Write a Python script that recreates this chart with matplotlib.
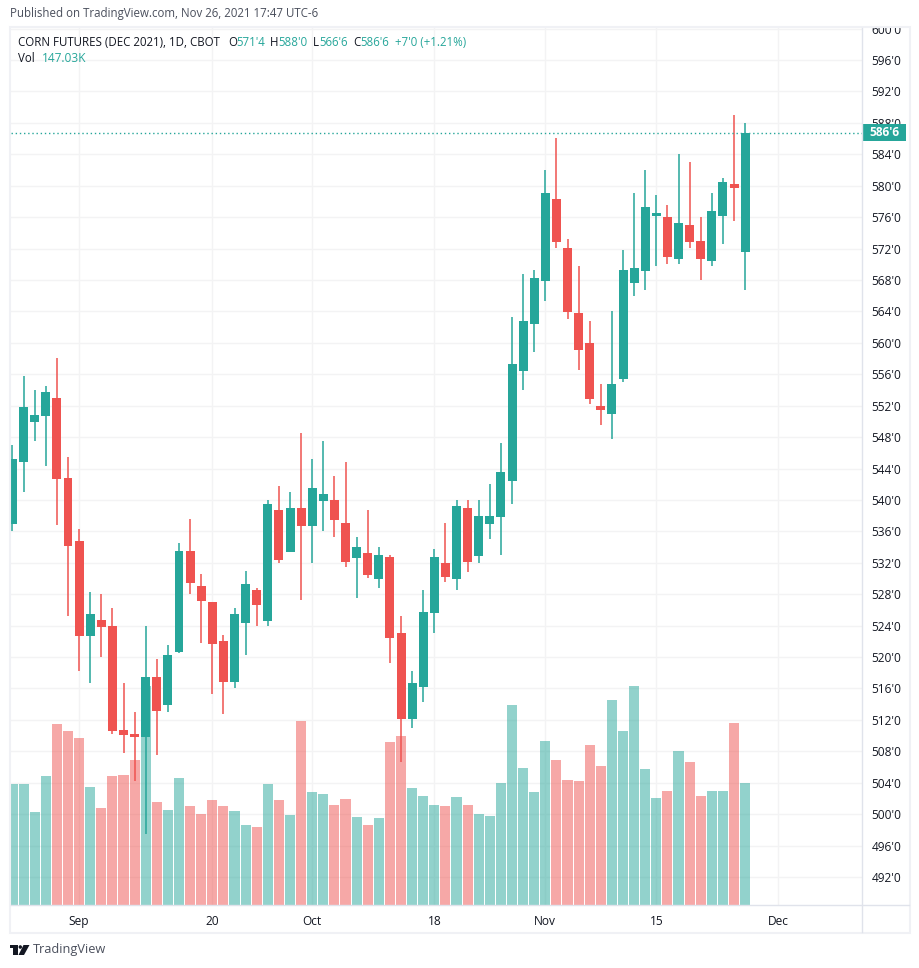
import matplotlib
matplotlib.use("Agg")
import matplotlib.pyplot as plt
from matplotlib.patches import Rectangle, Polygon, Circle
from matplotlib.transforms import Bbox

plt.rcParams['font.family'] = ['Open Sans', 'DejaVu Sans']

# daily prices, cents per bushel
opens = [536.9, 544.8, 549.9, 550.7, 553.0, 542.8, 534.8, 522.7, 524.7, 523.9, 510.7, 510.2, 509.8, 517.5, 513.9, 520.6, 533.5,
         529.0, 527.0, 522.0, 516.8, 524.3, 528.5, 524.6, 538.7, 533.4, 539.0, 536.7, 539.9, 540.0, 537.1, 532.6, 533.2, 529.9,
         532.7, 523.1, 512.1, 516.2, 525.6, 532.0, 529.9, 539.0, 532.9, 536.9, 537.8, 542.4, 556.4, 562.4, 567.9, 578.3, 572.1,
         563.8, 560.0, 552.0, 550.9, 555.4, 567.6, 569.1, 576.1, 576.0, 570.7, 575.0, 572.9, 570.4, 576.1, 580.2, 571.5]
highs = [547.0, 555.8, 554.0, 554.5, 558.1, 545.5, 536.3, 528.3, 528.0, 526.2, 516.7, 513.0, 523.9, 519.7, 521.5, 534.5, 537.6,
         530.6, 527.0, 522.8, 526.2, 531.0, 528.8, 540.0, 541.8, 541.0, 548.5, 545.2, 547.5, 543.0, 544.8, 535.3, 538.7, 534.0,
         533.0, 525.2, 518.2, 528.5, 533.7, 537.1, 540.0, 540.0, 540.0, 542.0, 547.2, 563.3, 568.8, 569.3, 582.0, 586.1, 573.2,
         569.8, 562.8, 554.8, 564.0, 571.8, 579.1, 582.0, 578.8, 577.5, 584.0, 583.0, 576.0, 579.1, 581.0, 589.0, 588.0]
lows = [536.0, 541.0, 547.5, 544.3, 536.8, 525.2, 518.2, 516.7, 520.0, 510.2, 507.8, 504.2, 497.5, 507.5, 513.0, 520.5, 528.0,
        521.8, 515.3, 512.8, 516.1, 520.3, 523.9, 523.9, 532.0, 533.4, 527.3, 532.0, 536.0, 535.3, 531.5, 527.5, 530.1, 528.8,
        519.2, 506.6, 511.0, 514.3, 523.1, 529.5, 528.5, 530.8, 532.0, 535.0, 533.0, 539.5, 554.0, 558.8, 565.3, 572.1, 563.0,
        556.5, 552.2, 549.5, 547.7, 555.0, 566.0, 566.7, 569.8, 570.0, 570.0, 572.1, 568.0, 569.8, 572.6, 575.5, 566.75]
closes = [545.2, 551.8, 550.8, 553.7, 542.7, 534.1, 522.7, 525.5, 523.8, 510.6, 510.1, 509.8, 517.5, 513.1, 520.3, 533.5, 529.4,
          527.1, 521.7, 516.8, 525.5, 529.3, 526.6, 539.5, 532.4, 539.0, 536.7, 541.5, 540.8, 537.4, 532.1, 534.0, 530.4, 533.0,
          522.4, 512.1, 516.7, 525.7, 532.7, 530.2, 539.2, 532.1, 538.0, 538.0, 543.6, 557.3, 562.8, 568.3, 579.1, 572.8, 563.9,
          559.1, 552.9, 551.5, 554.8, 569.3, 569.5, 577.3, 576.5, 570.9, 575.2, 572.8, 570.7, 576.8, 580.5, 579.7, 586.75]
volumes = [145.8, 145.8, 112.1, 155.4, 218.1, 209.7, 201.2, 142.2, 116.9, 155.4, 156.7, 174.7, 263.9, 124.1, 114.5, 153.0, 119.3,
           109.7, 126.5, 119.3, 113.3, 96.4, 94.0, 145.8, 126.5, 108.5, 221.7, 136.2, 133.8, 120.5, 127.7, 106.0, 96.4, 104.8,
           196.4, 203.6, 141.0, 131.3, 120.5, 119.3, 130.1, 120.5, 109.7, 107.2, 147.0, 241.0, 165.1, 136.2, 197.6, 174.7, 150.6,
           149.4, 192.8, 167.5, 247.0, 209.7, 263.9, 163.9, 128.9, 137.4, 185.6, 172.3, 131.3, 137.4, 137.4, 219.3, 147.03]

price_ticks = [492, 496, 500, 504, 508, 512, 516, 520, 524, 528, 532, 536, 540, 544, 548, 552, 556, 560, 564, 568, 572, 576,
               580, 584, 588, 592, 596, 600]
date_ticks = [6, 18, 27, 38, 48, 58, 69]
date_labels = ['Sep', '20', 'Oct', '18', 'Nov', '15', 'Dec']

UP = '#26a69a'
DOWN = '#ef5350'
TEXT = '#131722'
GRID = '#f3f3f4'
FRAME = '#f0f1f5'
AXIS_LINE = '#e0e3eb'


def px(x, y):
    # pixel position in the 920x968 picture to figure fraction
    return x / 920, 1 - y / 968


fig = plt.figure(figsize=(9.2, 9.68), dpi=100, facecolor='white')

# plot area runs from x=11 to x=862 and from y=28 to y=905
left, top = px(11, 28)
right, bottom = px(862, 905)
ax = fig.add_axes([left, bottom, right - left, top - bottom])
ax.set_xlim(-0.135, 76.53)
ax.set_ylim(488.44, 600.07)

# volume bars in the middle layer
colors = [UP if c >= o else DOWN for o, c in zip(opens, closes)]
ax_vol = ax.twinx()
ax_vol.set_ylim(0, 1057)
ax_vol.axis('off')
ax_vol.bar(range(len(volumes)), volumes, width=0.91, color=colors, alpha=0.5, linewidth=0)

# candles on top
ax_c = ax.twinx()
ax_c.set_ylim(ax.get_ylim())
ax_c.axis('off')
ax_c.vlines(range(len(opens)), lows, highs, colors=colors, linewidth=1.1)
ax_c.bar(range(len(opens)), [abs(c - o) for o, c in zip(opens, closes)],
         bottom=[min(o, c) for o, c in zip(opens, closes)], width=0.81, color=colors, linewidth=0)
ax_c.axhline(closes[-1], color=UP, linewidth=1.0, linestyle=(0, (1, 2)))

# ticks have to go right after the twins, twinx moves them back to the left
ax.yaxis.tick_right()
ax.set_yticks(price_ticks)
ax.set_yticklabels([f"{p}'0" for p in price_ticks])
ax.set_xticks(date_ticks)
ax.set_xticklabels(date_labels)
ax.grid(True, color=GRID, linewidth=1)
ax.tick_params(length=0, labelsize=8.6, labelcolor=TEXT)
ax.tick_params(axis='y', pad=7)
ax.tick_params(axis='x', pad=7)
for side in ax.spines.values():
    side.set_visible(False)

# the 600'0 label is cut off by the frame
for lab in ax.get_yticklabels():
    if lab.get_text() == "600'0":
        lab.set_clip_box(Bbox([[860, 968 - 905], [912, 968 - 28]]))
        lab.set_clip_on(True)

# last price tag
ax_c.add_patch(Rectangle((1, closes[-1] - 1.06), 0.0517, 2.12, transform=ax_c.get_yaxis_transform(),
                         facecolor=UP, edgecolor='none', clip_on=False, zorder=5))
ax_c.text(1.026, closes[-1], "586'6", transform=ax_c.get_yaxis_transform(), color='white', fontsize=8.6,
          fontweight='bold', ha='center', va='center', clip_on=False, zorder=6)

# frame and axis lines
fig.add_artist(Rectangle(px(10, 933), 900 / 920, 906 / 968, transform=fig.transFigure, fill=False,
                         edgecolor=FRAME, linewidth=1.5))
fig.add_artist(plt.Line2D([px(862, 0)[0]] * 2, [px(0, 28)[1], px(0, 932)[1]], color=AXIS_LINE, linewidth=1))
fig.add_artist(plt.Line2D([px(11, 0)[0], px(909, 0)[0]], [px(0, 905)[1]] * 2, color=AXIS_LINE, linewidth=1))

# header text
x, y = px(10, 14)
fig.text(x, y, 'Published on TradingView.com, Nov 26, 2021 17:47 UTC-6', color='#4a4f5c', fontsize=8.3, va='center')
header = [(18, 'CORN FUTURES (DEC 2021), 1D, CBOT', TEXT), (228, 'O', TEXT), (236, "571'4", UP), (270, 'H', TEXT),
          (278, "588'0", UP), (313, 'L', TEXT), (319, "566'6", UP), (353, 'C', TEXT), (360, "586'6", UP),
          (395, "+7'0 (+1.21%)", UP)]
for hx, label, col in header:
    x, y = px(hx, 42)
    fig.text(x, y, label, color=col, fontsize=8.3, va='center')
x, y = px(18, 59)
fig.text(x, y, 'Vol', color=TEXT, fontsize=8.3, va='center')
x, y = px(42, 59)
fig.text(x, y, '147.03K', color=UP, fontsize=8.6, va='center')

# TradingView logo and name
logo = '#131722'
fig.add_artist(Polygon([px(10, 945), px(17.5, 945), px(17.5, 955), px(13.5, 955), px(13.5, 948), px(10, 948)],
                       closed=True, transform=fig.transFigure, facecolor=logo, edgecolor='none'))
fig.add_artist(Polygon([px(23.5, 945), px(29.5, 945), px(24, 955), px(18.5, 955)],
                       closed=True, transform=fig.transFigure, facecolor=logo, edgecolor='none'))
fig.add_artist(Circle(px(20.3, 947), 1.7 / 920, transform=fig.transFigure, facecolor=logo, edgecolor='none'))
x, y = px(33, 950)
fig.text(x, y, 'TradingView', color='#4a4f5c', fontsize=9.2, va='center')

fig.savefig('out.png', dpi=100)
